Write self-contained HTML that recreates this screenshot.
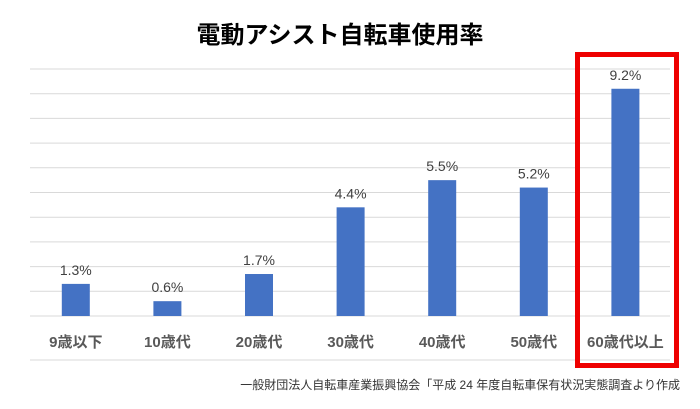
<!DOCTYPE html>
<html><head><meta charset="utf-8"><style>
body{margin:0;background:#fff;width:700px;height:409px;overflow:hidden}
svg{display:block;font-family:"Liberation Sans","Noto Sans CJK JP",sans-serif}
</style></head><body>
<svg id="c" width="700" height="409">
<text x="340" y="43" text-anchor="middle" font-size="24" font-weight="bold" fill="#000">電動アシスト自転車使用率</text>
<g id="grid"></g><g id="bars"></g>
<line x1="30" x2="670" y1="360" y2="360" stroke="#d9d9d9"/>
<rect x="577.5" y="54.5" width="99" height="311" fill="none" stroke="#e00" stroke-width="5"/>
<text x="680" y="389" text-anchor="end" font-size="12" fill="#333">一般財団法人自転車産業振興協会「平成 24 年度自転車保有状況実態調査より作成</text>
</svg>
<script>
const categories=["9歳以下","10歳代","20歳代","30歳代","40歳代","50歳代","60歳代以上"];
const values=[1.3,0.6,1.7,4.4,5.5,5.2,9.2];
const gridTicks=[0,1,2,3,4,5,6,7,8,9,10];
const NS="http://www.w3.org/2000/svg";
const x0=30,step=91.6,base=316,ppu=24.7;
const y=v=>base-v*ppu, xc=i=>x0+step*(i+0.5);
function mk(t,a,p){const e=document.createElementNS(NS,t);for(const k in a)e.setAttribute(k,a[k]);p.appendChild(e);return e;}
const g=document.getElementById('grid'),b=document.getElementById('bars');
gridTicks.forEach(t=>{const l=mk('line',{x1:30,x2:670,y1:y(t),y2:y(t),stroke:'#d9d9d9'},g);

});
categories.forEach((c,i)=>{
const r=mk('rect',{x:xc(i)-14,y:y(values[i]),width:28,height:values[i]*ppu,fill:'#4472c4'},b);


const v=mk('text',{x:xc(i),y:y(values[i])-9,'text-anchor':'middle','font-size':14,fill:'#404040'},b);v.textContent=values[i].toFixed(1)+'%';


const l=mk('text',{x:xc(i),y:347,'text-anchor':'middle','font-size':15,'font-weight':'bold',fill:'#595959'},b);l.textContent=c;


});
</script>
</body></html>
